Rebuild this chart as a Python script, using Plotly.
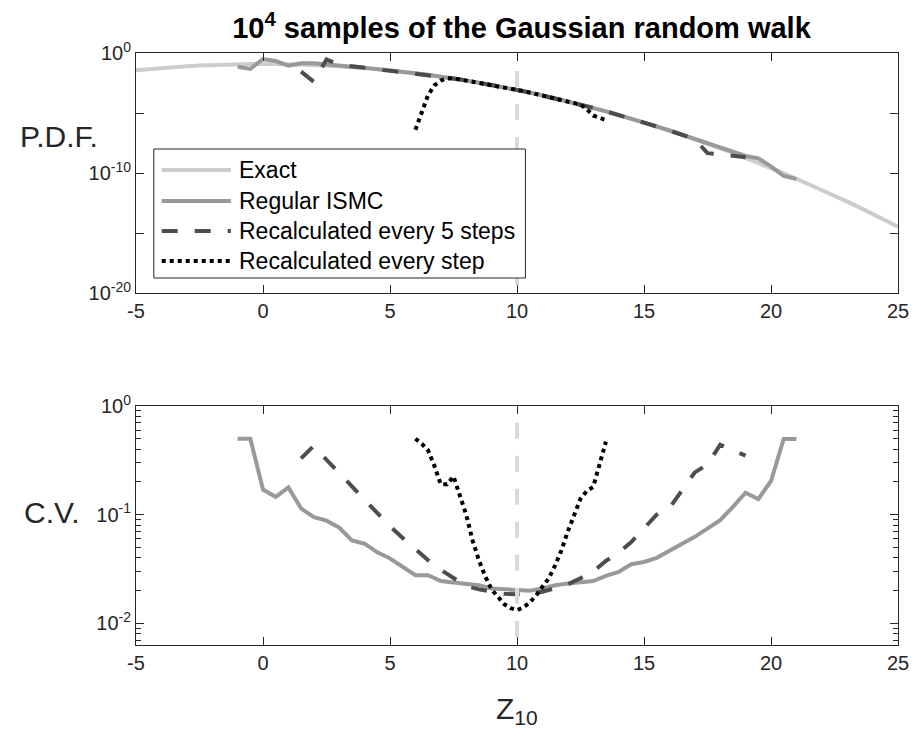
import numpy as np
import plotly.graph_objects as go

# ---------------- data ----------------
# P.D.F. panel: values stored as log10(pdf)
x_exact = np.arange(-5, 25.01, 0.5)
exact_log10_pdf = [-1.44, -1.34, -1.25, -1.17, -1.10, -1.04, -0.99, -0.95, -0.92, -0.91,
                   -0.90, -0.91, -0.92, -0.95, -0.99, -1.04, -1.10, -1.17, -1.25, -1.34,
                   -1.44, -1.56, -1.68, -1.82, -1.96, -2.12, -2.29, -2.47, -2.66, -2.86,
                   -3.07, -3.29, -3.53, -3.77, -4.03, -4.29, -4.57, -4.86, -5.16, -5.47,
                   -5.79, -6.12, -6.46, -6.81, -7.18, -7.55, -7.94, -8.33, -8.74, -9.16,
                   -9.59, -10.03, -10.48, -10.94, -11.41, -11.89, -12.39, -12.89, -13.41,
                   -13.94, -14.47]

x_regular = np.arange(-1, 21.01, 0.5)
regular_log10_pdf = [-1.14, -1.33, -0.50, -0.67, -1.06, -0.86, -0.86, -0.98, -1.08, -1.15,
                     -1.24, -1.33, -1.44, -1.55, -1.68, -1.81, -1.96, -2.12, -2.29, -2.47,
                     -2.66, -2.86, -3.07, -3.29, -3.53, -3.77, -4.03, -4.29, -4.57, -4.86,
                     -5.16, -5.47, -5.79, -6.12, -6.46, -6.81, -7.17, -7.54, -7.85, -8.25,
                     -8.58, -8.78, -9.45, -10.25, -10.50]

x_every5 = np.arange(1.5, 19.01, 0.5)
every5_log10_pdf = [-1.55, -2.40, -0.55, -0.97, -1.10, -1.22, -1.33, -1.44, -1.56, -1.68,
                    -1.82, -1.96, -2.12, -2.29, -2.47, -2.66, -2.86, -3.07, -3.29, -3.53,
                    -3.77, -4.03, -4.29, -4.57, -4.86, -5.16, -5.47, -5.79, -6.12, -6.46,
                    -6.81, -7.18, -8.35, -8.48, -8.58, -8.68]

x_every1 = np.arange(6, 13.51, 0.25)
every1_log10_pdf = [-6.40, -4.90, -3.50, -2.70, -2.30, -2.12, -2.10, -2.20, -2.29, -2.38,
                    -2.47, -2.56, -2.66, -2.76, -2.86, -2.96, -3.07, -3.18, -3.29, -3.41,
                    -3.53, -3.65, -3.77, -3.90, -4.03, -4.16, -4.30, -4.70, -5.20, -5.40,
                    -5.60]

# C.V. panel
regular_cv = [0.50, 0.50, 0.170, 0.146, 0.178, 0.114, 0.095, 0.088, 0.076, 0.058,
              0.054, 0.045, 0.0395, 0.033, 0.0277, 0.0277, 0.0245, 0.0237, 0.0232, 0.0224,
              0.0209, 0.0206, 0.0206, 0.0199, 0.0209, 0.0224, 0.0232, 0.0240, 0.0245, 0.0273,
              0.0297, 0.035, 0.0367, 0.040, 0.047, 0.054, 0.0625, 0.0746, 0.089, 0.118,
              0.159, 0.139, 0.204, 0.497, 0.497]

every5_cv = [0.33, 0.43, 0.32, 0.24, 0.18, 0.135, 0.102, 0.078, 0.061, 0.048,
             0.038, 0.031, 0.026, 0.022, 0.0205, 0.0195, 0.0187, 0.0185, 0.0186, 0.0195,
             0.021, 0.0228, 0.026, 0.030, 0.0375, 0.0445, 0.056, 0.075, 0.100, 0.115,
             0.17, 0.245, 0.29, 0.44, 0.39, 0.35]

every1_cv = [0.50, 0.45, 0.39, 0.28, 0.19, 0.19, 0.225, 0.15, 0.10, 0.058,
             0.038, 0.027, 0.0205, 0.0175, 0.015, 0.0138, 0.0132, 0.014, 0.0155, 0.018,
             0.0215, 0.026, 0.034, 0.047, 0.070, 0.100, 0.140, 0.165, 0.180, 0.290,
             0.470]

# reference line at Z = 10
ref_x = [10, 10]
ref_pdf_y = [10 ** -1.5, 1e-20]
ref_cv_y = [0.7, 10 ** -2.2]

x_ticks = [-5, 0, 5, 10, 15, 20, 25]
x_ticktext = ["-5", "0", "5", "10", "15", "20", "25"]
pdf_tickvals = [1e-20, 1e-10, 1]
pdf_ticktext = ["10<sup>-20</sup>", "10<sup>-10</sup>", "10<sup>0</sup>"]
pdf_minor = [1e-15, 1e-5]
cv_tickvals = [0.01, 0.1, 1]
cv_ticktext = ["10<sup>-2</sup>", "10<sup>-1</sup>", "10<sup>0</sup>"]
cv_minor = [0.007, 0.008, 0.009, 0.02, 0.03, 0.04, 0.05, 0.06, 0.07, 0.08, 0.09,
            0.2, 0.3, 0.4, 0.5, 0.6, 0.7, 0.8, 0.9]

labels = ["Exact", "Regular ISMC", "Recalculated every 5 steps", "Recalculated every step"]

# ---------------- styles ----------------
FONT = "Liberation Sans, Arial, Helvetica, sans-serif"
C_EXACT = "#cccccc"
C_REG = "#999999"
C_DASH = "#4d4d4d"
C_DOT = "#000000"
C_REF = "#d9d9d9"
C_AX = "#262626"
LW = 4
DASH = "16px,17px"

fig = go.Figure()

def pdf(vals):
    return [10 ** v for v in vals]

# top panel
fig.add_trace(go.Scatter(x=x_exact, y=pdf(exact_log10_pdf), mode="lines", name=labels[0],
                         line=dict(color=C_EXACT, width=LW), xaxis="x", yaxis="y"))
fig.add_trace(go.Scatter(x=x_regular, y=pdf(regular_log10_pdf), mode="lines", name=labels[1],
                         line=dict(color=C_REG, width=LW), xaxis="x", yaxis="y"))
fig.add_trace(go.Scatter(x=x_every5, y=pdf(every5_log10_pdf), mode="lines", name=labels[2],
                         line=dict(color=C_DASH, width=LW, dash=DASH), xaxis="x", yaxis="y"))
fig.add_trace(go.Scatter(x=x_every1, y=pdf(every1_log10_pdf), mode="lines", name=labels[3],
                         line=dict(color=C_DOT, width=LW, dash="dot"), xaxis="x", yaxis="y"))
fig.add_trace(go.Scatter(x=ref_x, y=ref_pdf_y, mode="lines", showlegend=False,
                         line=dict(color=C_REF, width=LW, dash=DASH), xaxis="x", yaxis="y"))

# bottom panel
fig.add_trace(go.Scatter(x=x_regular, y=regular_cv, mode="lines", showlegend=False,
                         line=dict(color=C_REG, width=LW), xaxis="x2", yaxis="y2"))
fig.add_trace(go.Scatter(x=x_every5, y=every5_cv, mode="lines", showlegend=False,
                         line=dict(color=C_DASH, width=LW, dash=DASH), xaxis="x2", yaxis="y2"))
fig.add_trace(go.Scatter(x=x_every1, y=every1_cv, mode="lines", showlegend=False,
                         line=dict(color=C_DOT, width=LW, dash="dot"), xaxis="x2", yaxis="y2"))
fig.add_trace(go.Scatter(x=ref_x, y=ref_cv_y, mode="lines", showlegend=False,
                         line=dict(color=C_REF, width=LW, dash=DASH), xaxis="x2", yaxis="y2"))

W, H = 921, 737
L, R, T, B = 136, 14, 53, 92
PW, PH = W - L - R, H - T - B

def px2x(px):
    return (px - L) / PW

def py2y(py):
    return (H - B - py) / PH

axis_common = dict(showline=True, linecolor=C_AX, linewidth=1, mirror="ticks",
                   ticks="inside", ticklen=8, tickcolor=C_AX, tickwidth=1,
                   showgrid=False, zeroline=False,
                   tickfont=dict(family=FONT, size=20, color=C_AX))

fig.update_layout(
    width=W, height=H,
    margin=dict(l=L, r=R, t=T, b=B),
    paper_bgcolor="white", plot_bgcolor="white",
    showlegend=False,
    font=dict(family=FONT, color=C_AX),
    title=dict(text="<b>10<sup>4</sup> samples of the Gaussian random walk</b>",
               x=0.5 * (L + W - R) / W, xanchor="center", y=1 - 28 / H, yanchor="middle",
               font=dict(family=FONT, size=29, color="black")),
    xaxis=dict(domain=[0, 1], range=[-5, 25], anchor="y", tickvals=x_ticks,
               ticktext=x_ticktext, **axis_common),
    yaxis=dict(domain=[py2y(293), 1], type="log", range=[-20, 0], anchor="x",
               tickvals=pdf_tickvals, ticktext=pdf_ticktext,
               minor=dict(tickmode="array", tickvals=pdf_minor, ticks="inside",
                          ticklen=8, tickcolor=C_AX, tickwidth=1, showgrid=False),
               **axis_common),
    xaxis2=dict(domain=[0, 1], range=[-5, 25], anchor="y2", tickvals=x_ticks,
                ticktext=x_ticktext, **axis_common),
    yaxis2=dict(domain=[0, py2y(406)], type="log", range=[-2.2, 0], anchor="x2",
                tickvals=cv_tickvals, ticktext=cv_ticktext,
                minor=dict(tickmode="array", tickvals=cv_minor, ticks="inside",
                           ticklen=5, tickcolor=C_AX, tickwidth=1, showgrid=False),
                **axis_common),
)

# axis labels
ann = [
    dict(text="P.D.F.", x=px2x(58), y=py2y(136), xref="paper", yref="paper",
         showarrow=False, xanchor="center", yanchor="middle",
         font=dict(family=FONT, size=30, color=C_AX)),
    dict(text="C.V.", x=px2x(51), y=py2y(512), xref="paper", yref="paper",
         showarrow=False, xanchor="center", yanchor="middle",
         font=dict(family=FONT, size=30, color=C_AX)),
    dict(text="Z<sub>10</sub>", x=px2x(521), y=py2y(710), xref="paper", yref="paper",
         showarrow=False, xanchor="center", yanchor="middle",
         font=dict(family=FONT, size=30, color=C_AX)),
]

# manual legend (MATLAB style box inside the top panel)
shapes = [dict(type="rect", xref="paper", yref="paper", layer="above",
               x0=px2x(154), x1=px2x(530), y0=py2y(278), y1=py2y(149),
               fillcolor="white", line=dict(color=C_AX, width=1))]
rows_py = [170, 201, 231, 261]
styles = [dict(color=C_EXACT, width=LW), dict(color=C_REG, width=LW),
          dict(color=C_DASH, width=LW, dash=DASH), dict(color=C_DOT, width=LW, dash="dot")]
for lab, rpy, st in zip(labels, rows_py, styles):
    shapes.append(dict(type="line", xref="paper", yref="paper", layer="above",
                       x0=px2x(162), x1=px2x(232), y0=py2y(rpy), y1=py2y(rpy), line=st))
    ann.append(dict(text=lab, x=px2x(238), y=py2y(rpy), xref="paper", yref="paper",
                    showarrow=False, xanchor="left", yanchor="middle",
                    font=dict(family=FONT, size=23, color="black")))

fig.update_layout(annotations=ann, shapes=shapes)

fig.write_html("out.html")
